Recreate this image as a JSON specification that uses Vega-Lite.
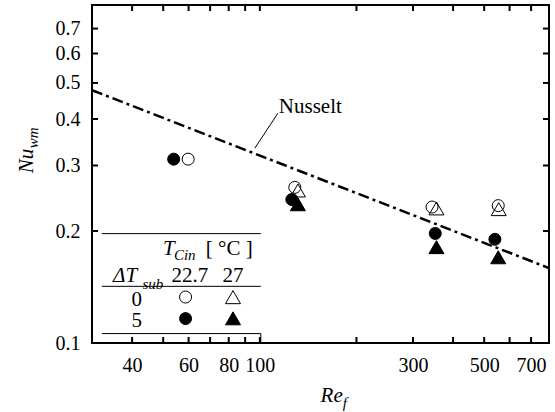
{
  "$schema": "https://vega.github.io/schema/vega-lite/v6.json",
  "width": 457,
  "height": 338,
  "autosize": {"type": "none"},
  "padding": {"left": 92, "top": 5, "right": 6, "bottom": 69},
  "background": "white",
  "resolve": {"scale": {"x": "independent", "y": "independent"}},
  "config": {
    "view": {"stroke": "black", "strokeWidth": 2},
    "axis": {
      "labelFont": "Liberation Serif",
      "labelFontSize": 20,
      "labelColor": "black",
      "tickColor": "black",
      "tickSize": -6,
      "tickWidth": 2,
      "tickOpacity": 0,
      "domain": false,
      "grid": false,
      "title": null,
      "labelOverlap": false,
      "labelFlush": false,
      "labelBound": false
    }
  },
  "datasets": {
    "points": [
      {"Re": 53.9, "Nu": 0.312, "dT": "5", "Tc": "22.7"},
      {"Re": 59.8, "Nu": 0.312, "dT": "0", "Tc": "22.7"},
      {"Re": 128.5, "Nu": 0.262, "dT": "0", "Tc": "22.7"},
      {"Re": 131.4, "Nu": 0.257, "dT": "0", "Tc": "27"},
      {"Re": 125.8, "Nu": 0.243, "dT": "5", "Tc": "22.7"},
      {"Re": 131.4, "Nu": 0.236, "dT": "5", "Tc": "27"},
      {"Re": 344, "Nu": 0.232, "dT": "0", "Tc": "22.7"},
      {"Re": 355, "Nu": 0.230, "dT": "0", "Tc": "27"},
      {"Re": 352, "Nu": 0.197, "dT": "5", "Tc": "22.7"},
      {"Re": 355, "Nu": 0.181, "dT": "5", "Tc": "27"},
      {"Re": 553, "Nu": 0.234, "dT": "0", "Tc": "22.7"},
      {"Re": 555, "Nu": 0.229, "dT": "0", "Tc": "27"},
      {"Re": 540, "Nu": 0.190, "dT": "5", "Tc": "22.7"},
      {"Re": 553, "Nu": 0.170, "dT": "5", "Tc": "27"},
      {"Re": 58.7, "Nu": 0.1329, "dT": "0", "Tc": "22.7"},
      {"Re": 82.5, "Nu": 0.1328, "dT": "0", "Tc": "27"},
      {"Re": 58.7, "Nu": 0.1163, "dT": "5", "Tc": "22.7"},
      {"Re": 82.5, "Nu": 0.1165, "dT": "5", "Tc": "27"}
    ],
    "nusselt": [
      {"Re": 30, "Nu": 0.478},
      {"Re": 796, "Nu": 0.159}
    ],
    "rules": [
      {"Re": 96.5, "Nu": 0.334, "Re2": 113.8, "Nu2": 0.4145},
      {"Re": 32.2, "Nu": 0.1968, "Re2": 100.7, "Nu2": 0.1968},
      {"Re": 32.2, "Nu": 0.1420, "Re2": 100.7, "Nu2": 0.1420},
      {"Re": 32.2, "Nu": 0.1060, "Re2": 100.7, "Nu2": 0.1060},
      {"Re": 100.7, "Nu": 0.1060, "Re2": 100.7, "Nu2": 0.1}
    ],
    "frameTicks": [
      {"Re": 40, "Nu": 0.81, "Re2": 40, "Nu2": 0.7805}, {"Re": 50, "Nu": 0.81, "Re2": 50, "Nu2": 0.7805},
      {"Re": 60, "Nu": 0.81, "Re2": 60, "Nu2": 0.7805}, {"Re": 70, "Nu": 0.81, "Re2": 70, "Nu2": 0.7805},
      {"Re": 80, "Nu": 0.81, "Re2": 80, "Nu2": 0.7805}, {"Re": 90, "Nu": 0.81, "Re2": 90, "Nu2": 0.7805},
      {"Re": 100, "Nu": 0.81, "Re2": 100, "Nu2": 0.7805}, {"Re": 200, "Nu": 0.81, "Re2": 200, "Nu2": 0.7805},
      {"Re": 300, "Nu": 0.81, "Re2": 300, "Nu2": 0.7805}, {"Re": 400, "Nu": 0.81, "Re2": 400, "Nu2": 0.7805},
      {"Re": 500, "Nu": 0.81, "Re2": 500, "Nu2": 0.7805}, {"Re": 600, "Nu": 0.81, "Re2": 600, "Nu2": 0.7805},
      {"Re": 700, "Nu": 0.81, "Re2": 700, "Nu2": 0.7805},
      {"Re": 40, "Nu": 0.1, "Re2": 40, "Nu2": 0.1038}, {"Re": 50, "Nu": 0.1, "Re2": 50, "Nu2": 0.1038},
      {"Re": 60, "Nu": 0.1, "Re2": 60, "Nu2": 0.1038}, {"Re": 70, "Nu": 0.1, "Re2": 70, "Nu2": 0.1038},
      {"Re": 80, "Nu": 0.1, "Re2": 80, "Nu2": 0.1038}, {"Re": 90, "Nu": 0.1, "Re2": 90, "Nu2": 0.1038},
      {"Re": 100, "Nu": 0.1, "Re2": 100, "Nu2": 0.1038}, {"Re": 200, "Nu": 0.1, "Re2": 200, "Nu2": 0.1038},
      {"Re": 300, "Nu": 0.1, "Re2": 300, "Nu2": 0.1038}, {"Re": 400, "Nu": 0.1, "Re2": 400, "Nu2": 0.1038},
      {"Re": 500, "Nu": 0.1, "Re2": 500, "Nu2": 0.1038}, {"Re": 600, "Nu": 0.1, "Re2": 600, "Nu2": 0.1038},
      {"Re": 700, "Nu": 0.1, "Re2": 700, "Nu2": 0.1038},
      {"Re": 796, "Nu": 0.2, "Re2": 762.5, "Nu2": 0.2}, {"Re": 796, "Nu": 0.3, "Re2": 762.5, "Nu2": 0.3},
      {"Re": 796, "Nu": 0.4, "Re2": 762.5, "Nu2": 0.4}, {"Re": 796, "Nu": 0.5, "Re2": 762.5, "Nu2": 0.5},
      {"Re": 796, "Nu": 0.6, "Re2": 762.5, "Nu2": 0.6}, {"Re": 796, "Nu": 0.7, "Re2": 762.5, "Nu2": 0.7},
      {"Re": 30, "Nu": 0.2, "Re2": 31.32, "Nu2": 0.2}, {"Re": 30, "Nu": 0.3, "Re2": 31.32, "Nu2": 0.3},
      {"Re": 30, "Nu": 0.4, "Re2": 31.32, "Nu2": 0.4}, {"Re": 30, "Nu": 0.5, "Re2": 31.32, "Nu2": 0.5},
      {"Re": 30, "Nu": 0.6, "Re2": 31.32, "Nu2": 0.6}, {"Re": 30, "Nu": 0.7, "Re2": 31.32, "Nu2": 0.7}
    ],
    "regularText": [
      {"Re": 114.6, "Nu": 0.4145, "text": "Nusselt"},
      {"Re": 67.9, "Nu": 0.1721, "text": "[ °C ]"},
      {"Re": 53.1, "Nu": 0.1456, "text": "22.7"},
      {"Re": 76.5, "Nu": 0.1456, "text": "27"},
      {"Re": 39.8, "Nu": 0.1258, "text": "0"},
      {"Re": 39.8, "Nu": 0.1104, "text": "5"}
    ],
    "italicText": [
      {"Re": 49.9, "Nu": 0.1721, "text": "T"},
      {"Re": 34.9, "Nu": 0.1456, "text": "ΔT"},
      {"Re": 154.6, "Nu": 0.0694, "text": "Re"}
    ],
    "subText": [
      {"Re": 54.0, "Nu": 0.1668, "text": "Cin"},
      {"Re": 43.1, "Nu": 0.140, "text": "sub"},
      {"Re": 181.4, "Nu": 0.0667, "text": "f"}
    ],
    "rotText": [
      {"Re": 19.6, "Nu": 0.2858, "text": "Nu"}
    ],
    "rotSub": [
      {"Re": 20.34, "Nu": 0.3337, "text": "wm"}
    ]
  },
  "layer": [
    {
      "data": {"name": "nusselt"},
      "mark": {"type": "line", "color": "black", "strokeWidth": 2.5, "strokeDash": [11, 4, 3, 4]},
      "encoding": {
        "x": {"field": "Re", "type": "quantitative", "scale": {"type": "log", "domain": [30, 796], "nice": false},
          "axis": {"orient": "bottom", "values": [40, 50, 60, 70, 80, 90, 100, 200, 300, 400, 500, 600, 700],
            "labelExpr": "indexof([40, 60, 80, 100, 300, 500, 700], datum.value) >= 0 ? datum.label : ''", "labelPadding": 18}},
        "y": {"field": "Nu", "type": "quantitative", "scale": {"type": "log", "domain": [0.1, 0.81], "nice": false},
          "axis": {"orient": "left", "values": [0.1, 0.2, 0.3, 0.4, 0.5, 0.6, 0.7], "format": ".1f", "labelPadding": 18}}
      }
    },
    {
      "data": {"name": "frameTicks"},
      "mark": {"type": "rule", "color": "black", "strokeWidth": 2},
      "encoding": {
        "x": {"field": "Re", "type": "quantitative", "scale": {"type": "log", "domain": [30, 796], "nice": false}, "axis": null},
        "x2": {"field": "Re2"},
        "y": {"field": "Nu", "type": "quantitative", "scale": {"type": "log", "domain": [0.1, 0.81], "nice": false}, "axis": null},
        "y2": {"field": "Nu2"}
      }
    },
    {
      "data": {"name": "rules"},
      "mark": {"type": "rule", "color": "black", "strokeWidth": 1},
      "encoding": {
        "x": {"field": "Re", "type": "quantitative", "scale": {"type": "log", "domain": [30, 796], "nice": false}, "axis": null},
        "x2": {"field": "Re2"},
        "y": {"field": "Nu", "type": "quantitative", "scale": {"type": "log", "domain": [0.1, 0.81], "nice": false}, "axis": null},
        "y2": {"field": "Nu2"}
      }
    },
    {
      "data": {"name": "points"},
      "mark": {"type": "point", "filled": true, "stroke": "black", "strokeWidth": 1, "opacity": 1},
      "encoding": {
        "x": {"field": "Re", "type": "quantitative", "scale": {"type": "log", "domain": [30, 796], "nice": false}, "axis": null},
        "y": {"field": "Nu", "type": "quantitative", "scale": {"type": "log", "domain": [0.1, 0.81], "nice": false}, "axis": null},
        "shape": {"field": "Tc", "type": "nominal", "scale": {"domain": ["22.7", "27"], "range": ["circle", "triangle-up"]}, "legend": null},
        "size": {"field": "Tc", "type": "ordinal", "scale": {"domain": ["22.7", "27"], "range": [144, 225]}, "legend": null},
        "fillOpacity": {"field": "dT", "type": "ordinal", "scale": {"domain": ["0", "5"], "range": [0, 1]}, "legend": null},
        "color": {"value": "black"}
      }
    },
    {
      "data": {"name": "regularText"},
      "mark": {"type": "text", "font": "Liberation Serif", "fontSize": 21, "align": "left", "baseline": "alphabetic", "color": "black"},
      "encoding": {
        "x": {"field": "Re", "type": "quantitative", "scale": {"type": "log", "domain": [30, 796], "nice": false}, "axis": null},
        "y": {"field": "Nu", "type": "quantitative", "scale": {"type": "log", "domain": [0.1, 0.81], "nice": false}, "axis": null},
        "text": {"field": "text"}
      }
    },
    {
      "data": {"name": "italicText"},
      "mark": {"type": "text", "font": "Liberation Serif", "fontStyle": "italic", "fontSize": 21, "align": "left", "baseline": "alphabetic", "color": "black"},
      "encoding": {
        "x": {"field": "Re", "type": "quantitative", "scale": {"type": "log", "domain": [30, 796], "nice": false}, "axis": null},
        "y": {"field": "Nu", "type": "quantitative", "scale": {"type": "log", "domain": [0.1, 0.81], "nice": false}, "axis": null},
        "text": {"field": "text"}
      }
    },
    {
      "data": {"name": "subText"},
      "mark": {"type": "text", "font": "Liberation Serif", "fontStyle": "italic", "fontSize": 15, "align": "left", "baseline": "alphabetic", "color": "black"},
      "encoding": {
        "x": {"field": "Re", "type": "quantitative", "scale": {"type": "log", "domain": [30, 796], "nice": false}, "axis": null},
        "y": {"field": "Nu", "type": "quantitative", "scale": {"type": "log", "domain": [0.1, 0.81], "nice": false}, "axis": null},
        "text": {"field": "text"}
      }
    },
    {
      "data": {"name": "rotText"},
      "mark": {"type": "text", "font": "Liberation Serif", "fontStyle": "italic", "fontSize": 21, "align": "left", "baseline": "alphabetic", "angle": 270, "color": "black"},
      "encoding": {
        "x": {"field": "Re", "type": "quantitative", "scale": {"type": "log", "domain": [30, 796], "nice": false}, "axis": null},
        "y": {"field": "Nu", "type": "quantitative", "scale": {"type": "log", "domain": [0.1, 0.81], "nice": false}, "axis": null},
        "text": {"field": "text"}
      }
    },
    {
      "data": {"name": "rotSub"},
      "mark": {"type": "text", "font": "Liberation Serif", "fontStyle": "italic", "fontSize": 15, "align": "left", "baseline": "alphabetic", "angle": 270, "color": "black"},
      "encoding": {
        "x": {"field": "Re", "type": "quantitative", "scale": {"type": "log", "domain": [30, 796], "nice": false}, "axis": null},
        "y": {"field": "Nu", "type": "quantitative", "scale": {"type": "log", "domain": [0.1, 0.81], "nice": false}, "axis": null},
        "text": {"field": "text"}
      }
    }
  ]
}
